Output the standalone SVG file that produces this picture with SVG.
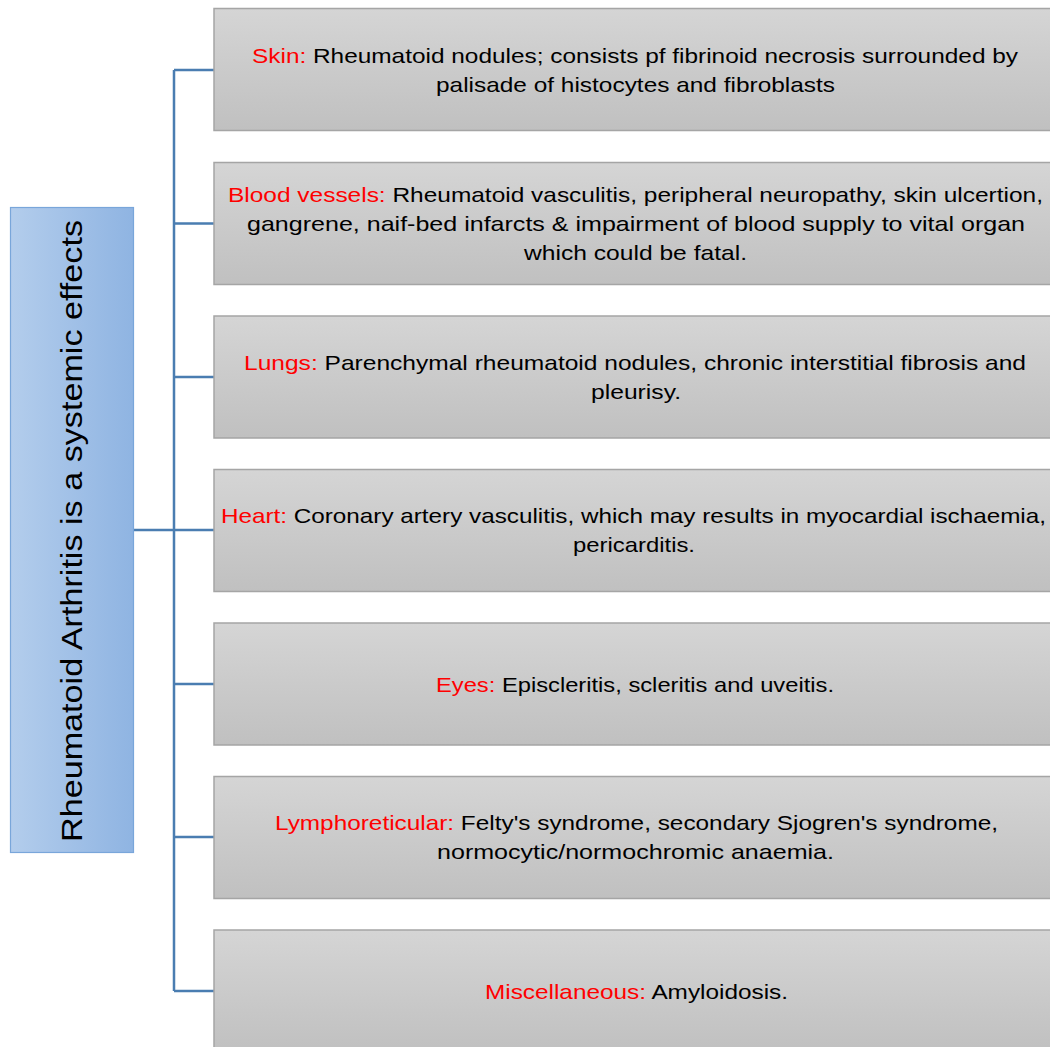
<svg xmlns="http://www.w3.org/2000/svg" width="1050" height="1047" viewBox="0 0 1050 1047">
<defs>
<linearGradient id="gBox" x1="0" y1="0" x2="0" y2="1">
<stop offset="0" stop-color="#d5d5d5"/>
<stop offset="1" stop-color="#c0c0c0"/>
</linearGradient>
<linearGradient id="gTitle" x1="0" y1="0" x2="1" y2="0">
<stop offset="0" stop-color="#b3cdec"/>
<stop offset="1" stop-color="#8fb4e2"/>
</linearGradient>
<style>
.box{fill:url(#gBox);stroke:#a5a5a5;stroke-width:1.5}
.t{font-family:"Liberation Sans",Arial,sans-serif;font-size:21px;fill:#000;text-anchor:middle}
.r{fill:#ff0000}
.c{fill:none;stroke:#4a7db1;stroke-width:2.5}
</style>
</defs>
<rect width="1050" height="1047" fill="#ffffff"/>
<g id="connectors">
<path class="c" d="M174 70V991M134 530H174M174 70H214M174 223.5H214M174 377H214M174 530H214M174 684H214M174 837H214M174 991H214"/>
</g>
<g id="title">
<rect x="10.5" y="207.5" width="123" height="645" fill="url(#gTitle)" stroke="#79a6da" stroke-width="1.2"/>
<text transform="translate(82 531) rotate(-90)" font-family="'Liberation Sans',Arial,sans-serif" font-size="29" text-anchor="middle" textLength="622" lengthAdjust="spacingAndGlyphs">Rheumatoid Arthritis is a systemic effects</text>
</g>
<g id="skin">
<rect class="box" x="214" y="8.5" width="850" height="122"/>
<text class="t" x="635" y="63" textLength="766" lengthAdjust="spacingAndGlyphs"><tspan class="r">Skin:</tspan> Rheumatoid nodules; consists pf fibrinoid necrosis surrounded by</text>
<text class="t" x="635.5" y="92" textLength="399" lengthAdjust="spacingAndGlyphs">palisade of histocytes and fibroblasts</text>
</g>
<g id="blood">
<rect class="box" x="214" y="162.5" width="850" height="122"/>
<text class="t" x="635.5" y="202" textLength="815" lengthAdjust="spacingAndGlyphs"><tspan class="r">Blood vessels:</tspan> Rheumatoid vasculitis, peripheral neuropathy, skin ulcertion,</text>
<text class="t" x="636" y="231" textLength="778" lengthAdjust="spacingAndGlyphs">gangrene, naif-bed infarcts &amp; impairment of blood supply to  vital organ</text>
<text class="t" x="635.5" y="260" textLength="223" lengthAdjust="spacingAndGlyphs">which could be fatal.</text>
</g>
<g id="lungs">
<rect class="box" x="214" y="316" width="850" height="122"/>
<text class="t" x="635" y="370" textLength="782" lengthAdjust="spacingAndGlyphs"><tspan class="r">Lungs:</tspan> Parenchymal rheumatoid nodules, chronic interstitial fibrosis and</text>
<text class="t" x="636" y="399" textLength="90" lengthAdjust="spacingAndGlyphs">pleurisy.</text>
</g>
<g id="heart">
<rect class="box" x="214" y="469.5" width="850" height="122"/>
<text class="t" x="633.5" y="523" textLength="825" lengthAdjust="spacingAndGlyphs"><tspan class="r">Heart:</tspan> Coronary artery vasculitis, which may results in myocardial ischaemia,</text>
<text class="t" x="634" y="552" textLength="122" lengthAdjust="spacingAndGlyphs">pericarditis.</text>
</g>
<g id="eyes">
<rect class="box" x="214" y="623" width="850" height="122"/>
<text class="t" x="635" y="692" textLength="398" lengthAdjust="spacingAndGlyphs"><tspan class="r">Eyes:</tspan> Episcleritis, scleritis and uveitis.</text>
</g>
<g id="lymph">
<rect class="box" x="214" y="776.5" width="850" height="122"/>
<text class="t" x="636.5" y="830" textLength="723" lengthAdjust="spacingAndGlyphs"><tspan class="r">Lymphoreticular:</tspan> Felty's syndrome, secondary Sjogren's syndrome,</text>
<text class="t" x="635.5" y="859" textLength="397" lengthAdjust="spacingAndGlyphs">normocytic/normochromic anaemia.</text>
</g>
<g id="misc">
<rect class="box" x="214" y="930" width="850" height="122"/>
<text class="t" x="636.5" y="999" textLength="303" lengthAdjust="spacingAndGlyphs"><tspan class="r">Miscellaneous:</tspan> Amyloidosis.</text>
</g>
</svg>
